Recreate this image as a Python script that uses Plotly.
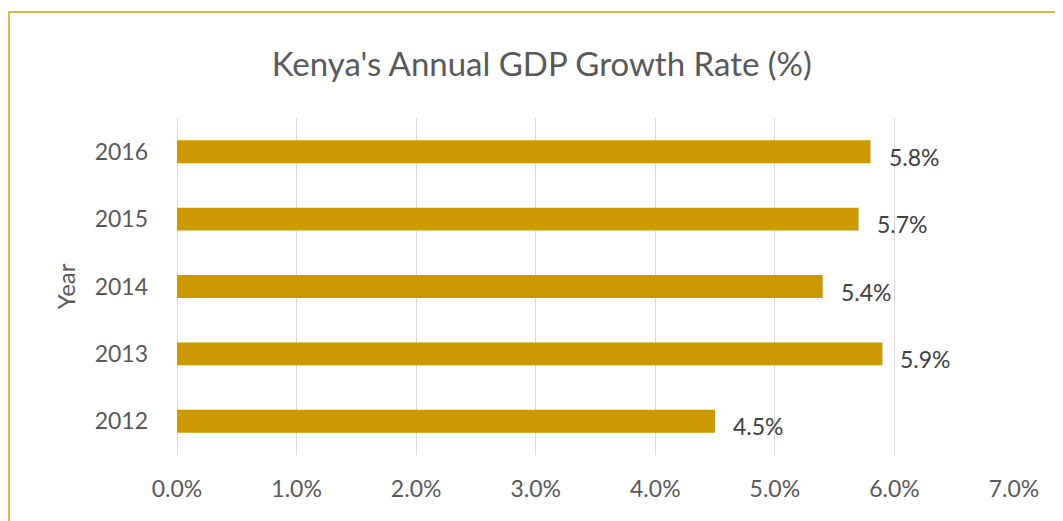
"""Kenya annual GDP growth rate, horizontal bar chart"""

import plotly.graph_objects as go

years = ["2012", "2013", "2014", "2015", "2016"]
growth = [4.5, 5.9, 5.4, 5.7, 5.8]
x_ticks = [0, 1, 2, 3, 4, 5, 6, 7]
x_tick_labels = [f"{v:.1f}%" for v in x_ticks]

BAR_COLOR = "#CC9A00"
TEXT_COLOR = "#595959"
FONT = "Lato, 'Open Sans', sans-serif"

fig = go.Figure()

fig.add_trace(
    go.Bar(
        x=growth,
        y=years,
        orientation="h",
        marker=dict(color=BAR_COLOR, line=dict(width=0)),
        width=0.34,
        hoverinfo="skip",
    )
)

# data labels, a little right of and below the bar end
# (year strings look numeric, so place by category index)
for i, val in enumerate(growth):
    fig.add_annotation(
        x=val,
        y=i,
        text=f"{val:.1f}%",
        xanchor="left",
        yanchor="middle",
        xshift=16,
        yshift=-5,
        showarrow=False,
        font=dict(size=23, color="#404040", family=FONT),
    )

# Year label on the left, rotated
fig.add_annotation(
    text="Year",
    textangle=-90,
    xref="paper",
    yref="paper",
    x=-0.133,
    y=0.5,
    xanchor="center",
    yanchor="middle",
    showarrow=False,
    font=dict(size=24, color=TEXT_COLOR, family=FONT),
)

# Gold outer frame of the chart
fig.add_shape(
    type="rect",
    xref="paper",
    yref="paper",
    x0=-0.2007,
    x1=1.2,
    y0=-0.4,
    y1=1.3145,
    line=dict(color="#D4A20A", width=1.5),
    fillcolor="rgba(0,0,0,0)",
    layer="below",
)

fig.update_layout(
    width=1055,
    height=513,
    margin=dict(l=169, r=49, t=110, b=66),
    paper_bgcolor="white",
    plot_bgcolor="white",
    showlegend=False,
    title=dict(
        text="Kenya's Annual GDP Growth Rate (%)",
        x=0.506,
        xref="container",
        xanchor="center",
        y=0.889,
        yref="container",
        yanchor="middle",
        font=dict(size=33, color=TEXT_COLOR, family=FONT),
    ),
    xaxis=dict(
        range=[0, 7],
        tickvals=x_ticks,
        ticktext=x_tick_labels,
        showgrid=True,
        gridcolor="#D9D9D9",
        gridwidth=1,
        zeroline=True,
        zerolinecolor="#D9D9D9",
        zerolinewidth=1,
        showline=False,
        ticklabelstandoff=18,
        tickfont=dict(size=23, color=TEXT_COLOR, family=FONT),
    ),
    yaxis=dict(
        type="category",
        categoryorder="array",
        categoryarray=years,
        range=[-0.5, len(years) - 0.5],
        showgrid=False,
        showline=False,
        ticklabelstandoff=28,
        tickfont=dict(size=23, color=TEXT_COLOR, family=FONT),
    ),
)

fig.write_html("out.html")
